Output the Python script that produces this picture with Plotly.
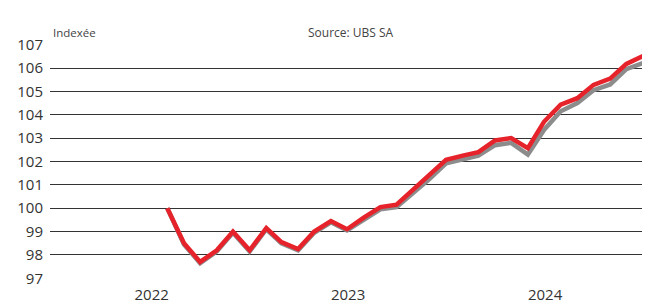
import plotly.graph_objects as go
import pandas as pd

# Month-end dates Jul 2022 .. Dec 2024
dates = pd.date_range("2022-07-31", "2024-12-31", freq="ME")

red_values = [100.0, 98.5, 97.7, 98.2, 99.0, 98.2, 99.15, 98.55, 98.25, 99.0,
              99.45, 99.1, 99.6, 100.05, 100.15, 100.8, 101.4, 102.07, 102.25, 102.4,
              102.9, 103.0, 102.57, 103.7, 104.43, 104.71, 105.28, 105.55, 106.18, 106.52]

grey_values = [100.0, 98.45, 97.65, 98.15, 98.95, 98.15, 99.1, 98.5, 98.2, 98.95,
               99.4, 99.05, 99.5, 99.95, 100.05, 100.65, 101.25, 101.92, 102.1, 102.25,
               102.7, 102.8, 102.3, 103.35, 104.15, 104.5, 105.05, 105.3, 105.95, 106.22]

year_tick_dates = ["2022-07-02", "2023-07-02", "2024-07-02"]
year_tick_labels = ["2022", "2023", "2024"]
y_ticks = list(range(97, 108))

FONT = "Open Sans"

# the page body has a default 8px margin; the figure is sized to fill the rest
fig = go.Figure()
fig.add_trace(go.Scatter(x=dates, y=grey_values, mode="lines",
                         line=dict(color="#8c8c8c", width=4.5), showlegend=False,
                         hoverinfo="skip"))
fig.add_trace(go.Scatter(x=dates, y=red_values, mode="lines",
                         line=dict(color="#e6222a", width=4.5), showlegend=False,
                         hoverinfo="skip"))

fig.update_layout(
    width=642, height=299,
    margin=dict(l=42, r=0, t=36, b=28),
    paper_bgcolor="white", plot_bgcolor="white",
    font=dict(family=FONT, color="#333333"),
    xaxis=dict(type="date", range=["2021-12-25", "2025-01-13"],
               tickvals=year_tick_dates, ticktext=year_tick_labels,
               showgrid=False, zeroline=False, showline=False,
               ticks="", ticklabelstandoff=5,
               tickfont=dict(size=15, color="#333333")),
    yaxis=dict(range=[96.97, 107.03], tickvals=y_ticks,
               showgrid=True, gridcolor="#333333", gridwidth=1.4,
               zeroline=False, showline=False, ticks="",
               ticklabelstandoff=6,
               tickfont=dict(size=15, color="#333333")),
    annotations=[
        dict(text="Indexée", xref="paper", yref="paper", x=0.002, y=1.047,
             xanchor="left", yanchor="middle", showarrow=False,
             font=dict(size=11.5, color="#444444", family=FONT)),
        dict(text="Source: UBS SA", xref="paper", yref="paper", x=(306 - 50) / 600, y=1.05,
             xanchor="left", yanchor="middle", showarrow=False,
             font=dict(size=12, color="#444444", family=FONT)),
    ],
)

fig.write_html("out.html")
